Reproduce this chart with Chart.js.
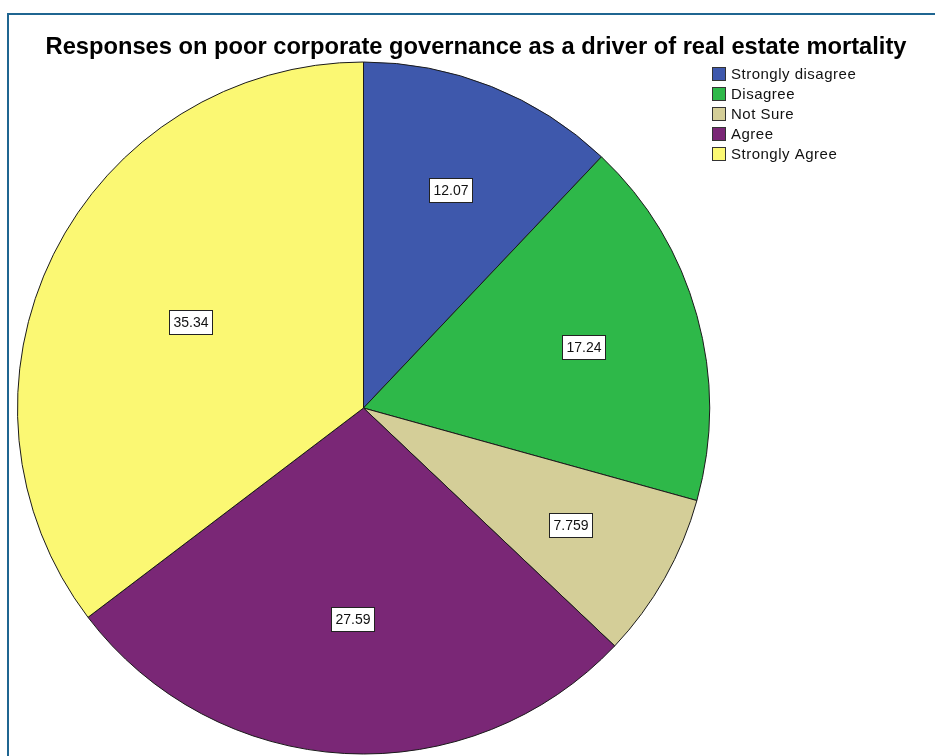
<!DOCTYPE html>
<html lang="en">
<head>
    <meta charset="UTF-8">
    <title>Poor corporate governance responses</title>
    <script src="https://cdn.jsdelivr.net/npm/chart.js"></script>
    <style>
        html, body { margin: 0; padding: 0; background: #fff; }
        #wrap { position: relative; width: 935px; height: 756px; overflow: hidden; }
        #frame {
            position: absolute; left: 7px; top: 13px; width: 1000px; height: 800px;
            border-left: 2px solid #1f6591; border-top: 2px solid #1f6591;
        }
        canvas { position: absolute; left: 0; top: 0; }
    </style>
</head>
<body>
    <div id="wrap">
        <div id="frame"></div>
        <canvas id="pieChart" width="935" height="756"></canvas>
    </div>

    <script>
        const chartTitle = 'Responses on poor corporate governance as a driver of real estate mortality';
        const categories = ['Strongly disagree', 'Disagree', 'Not Sure', 'Agree', 'Strongly Agree'];
        const percents = [12.07, 17.24, 7.759, 27.59, 35.34];
        const sliceColors = ['#3e58ac', '#2eb849', '#d4ce98', '#7a2776', '#fbf873'];

        const FONT = 'Arial, "Liberation Sans", sans-serif';

        // title, legend and the boxed value labels are drawn by hand
        const spssExtras = {
            id: 'spssExtras',
            afterDraw(chart) {
                const ctx = chart.ctx;
                ctx.save();

                ctx.fillStyle = '#000';
                ctx.font = 'bold 23.7px ' + FONT;
                ctx.textAlign = 'center';
                ctx.textBaseline = 'middle';
                ctx.fillText(chartTitle, 476, 47);

                // value labels near the centroid of each slice
                const meta = chart.getDatasetMeta(0);
                ctx.font = '14px ' + FONT;
                meta.data.forEach((arc, i) => {
                    const a = arc.endAngle - arc.startAngle;
                    const mid = (arc.startAngle + arc.endAngle) / 2;
                    const d = 1.04 * 4 * arc.outerRadius * Math.sin(a / 2) / (3 * a);
                    const x = arc.x + Math.cos(mid) * d;
                    const y = arc.y + Math.sin(mid) * d;
                    const txt = String(percents[i]);
                    const w = Math.round(ctx.measureText(txt).width + 8);
                    const h = 24;
                    const bx = Math.round(x - w / 2) + 0.5;
                    const by = Math.round(y - h / 2) + 0.5;
                    ctx.fillStyle = '#fff';
                    ctx.fillRect(bx, by, w, h);
                    ctx.strokeStyle = '#222';
                    ctx.lineWidth = 1;
                    ctx.strokeRect(bx, by, w, h);
                    ctx.fillStyle = '#111';
                    ctx.textAlign = 'center';
                    ctx.fillText(txt, bx + w / 2, by + h / 2 + 1);
                });

                // legend
                ctx.font = '15px ' + FONT;
                ctx.letterSpacing = '0.5px';
                ctx.textAlign = 'left';
                categories.forEach((name, i) => {
                    const y = 74 + i * 20;
                    ctx.fillStyle = sliceColors[i];
                    ctx.fillRect(712.5, y - 6.5, 13, 13);
                    ctx.strokeStyle = '#333';
                    ctx.strokeRect(712.5, y - 6.5, 13, 13);
                    ctx.fillStyle = '#111';
                    ctx.fillText(name, 731, y + 1);
                });

                ctx.restore();
            }
        };

        new Chart(document.getElementById('pieChart'), {
            type: 'pie',
            data: {
                labels: categories,
                datasets: [{
                    data: percents,
                    backgroundColor: sliceColors,
                    borderColor: '#1a1a1a',
                    borderWidth: 1
                }]
            },
            options: {
                responsive: false,
                animation: false,
                layout: { padding: { left: 17, right: 225, top: 61, bottom: 1 } },
                plugins: {
                    legend: { display: false },
                    tooltip: { enabled: false },
                    title: { display: false }
                }
            },
            plugins: [spssExtras]
        });
    </script>
</body>
</html>
